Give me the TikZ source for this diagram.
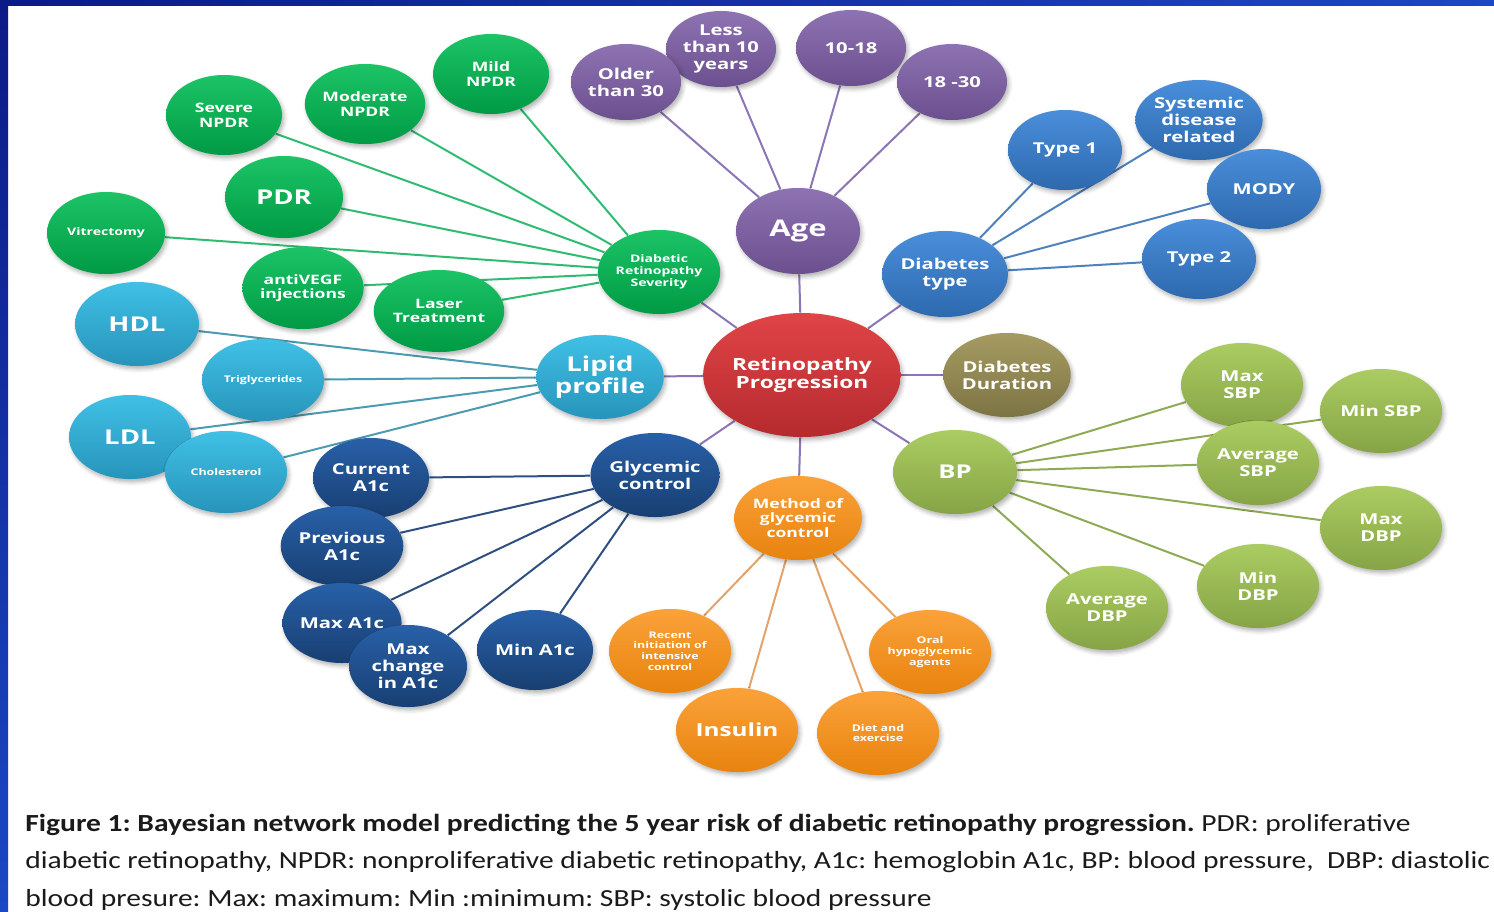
\documentclass[tikz,border=0pt]{standalone}
\usepackage{fontspec}
\usepackage{tikz}
\usetikzlibrary{shapes.geometric}
\usetikzlibrary{backgrounds}
\usetikzlibrary{shadows.blur}
\newfontfamily\nodefont{Open Sans}[FakeStretch=1.35]
\newfontfamily\capfont{Carlito}[FakeStretch=1.2]
\frenchspacing
\definecolor{sevL}{HTML}{1CC466}
\definecolor{sevD}{HTML}{009A44}
\definecolor{sevLine}{HTML}{2FBB72}
\definecolor{ageL}{HTML}{8E73B3}
\definecolor{ageD}{HTML}{6B4F8E}
\definecolor{ageLine}{HTML}{8B74B8}
\definecolor{typeL}{HTML}{4A8EDA}
\definecolor{typeD}{HTML}{2D69AE}
\definecolor{typeLine}{HTML}{4F81BD}
\definecolor{progL}{HTML}{E04446}
\definecolor{progD}{HTML}{B52A2E}
\definecolor{durL}{HTML}{A59B62}
\definecolor{durD}{HTML}{7D7444}
\definecolor{lipL}{HTML}{40C0E6}
\definecolor{lipD}{HTML}{2794BA}
\definecolor{lipLine}{HTML}{4D9BB0}
\definecolor{glyL}{HTML}{2860A8}
\definecolor{glyD}{HTML}{183F72}
\definecolor{glyLine}{HTML}{2F4F80}
\definecolor{metL}{HTML}{FAA23A}
\definecolor{metD}{HTML}{E8830E}
\definecolor{metLine}{HTML}{E3A36A}
\definecolor{bpL}{HTML}{ABCC62}
\definecolor{bpD}{HTML}{86A446}
\definecolor{bpLine}{HTML}{8DAA55}
\definecolor{frameL}{HTML}{0C1A86}
\definecolor{frameR}{HTML}{1B48C4}
\definecolor{capgray}{HTML}{1A1A1A}

\begin{document}
\begin{tikzpicture}
  [
    x=0.5pt,
    y=-0.5pt,
    bnode/.style={
      ellipse,
      inner sep=0pt,
      minimum width=61pt,
      minimum height=42pt,
      text=white,
      align=center,
      blur shadow={shadow xshift=1pt,shadow yshift=-1.5pt,shadow blur radius=2pt,shadow opacity=30}
    },
    sz/.style 2 args={minimum width=#1pt,minimum height=#2pt},
    sev/.style={bnode,top color=sevL,bottom color=sevD},
    age/.style={bnode,top color=ageL,bottom color=ageD},
    dtype/.style={bnode,top color=typeL,bottom color=typeD},
    prog/.style={bnode,top color=progL,bottom color=progD},
    dur/.style={bnode,top color=durL,bottom color=durD},
    lip/.style={bnode,top color=lipL,bottom color=lipD},
    gly/.style={bnode,top color=glyL,bottom color=glyD},
    met/.style={bnode,top color=metL,bottom color=metD},
    bpn/.style={bnode,top color=bpL,bottom color=bpD},
    fxs/.style={font=\nodefont\bfseries\fontsize{4.6}{5.4}\selectfont},
    fs/.style={font=\nodefont\bfseries\fontsize{5.2}{6}\selectfont},
    fm/.style={font=\nodefont\bfseries\fontsize{6.5}{7.3}\selectfont},
    fn/.style={font=\nodefont\bfseries\fontsize{7.5}{8.4}\selectfont},
    fl/.style={font=\nodefont\bfseries\fontsize{8.4}{9.2}\selectfont},
    fxl/.style={font=\nodefont\bfseries\fontsize{10.2}{11}\selectfont},
    link/.style={line width=1pt}
  ]
  \useasboundingbox (0,0) rectangle (1494,911);
  \clip (0,0) rectangle (1494,911);
  % frame
  \shade [left color=frameL,right color=frameR] (0,0) rectangle (1494,5);
  \shade [top color=frameL,bottom color=frameR] (0,0) rectangle (8,911);

  % retinopathy severity
  \node [sev,sz={58}{40},fm] (mild) at (491,74) {Mild\\NPDR};
  \node [sev,sz={58}{40},fm] (moderate) at (365,104) {Moderate\\NPDR};
  \node [sev,sz={58}{40},fm] (severe) at (224,115) {Severe\\NPDR};
  \node [sev,sz={59}{41},fxl] (pdr) at (284,197) {PDR};
  \node [sev,sz={59}{41},fs] (vitrect) at (106,233) {Vitrectomy};
  \node [sev,sz={59}{41},fm] (antivegf) at (303,288) {antiVEGF\\injections};
  \node [sev,sz={59}{41},fm] (laser) at (439,311) {Laser\\Treatment};
  \node [sev,fs] (drs) at (659,272) {Diabetic\\Retinopathy\\Severity};

  % age
  \node [age,sz={55}{38},fn] (less10) at (721,49) {Less\\than 10\\years};
  \node [age,sz={55}{38},fn] (older) at (626,82) {Older\\than 30};
  \node [age,sz={55}{38},fn] (a1018) at (851,48) {10-18};
  \node [age,sz={55}{38},fn] (a1830) at (952,82) {18 -30};
  \node [age,sz={62}{43},font=\nodefont\bfseries\fontsize{11.5}{12}\selectfont] (age) at (798,231) {Age};

  % diabetes type
  \node [dtype,sz={57}{40},fn] (type1) at (1065,150) {Type 1};
  \node [dtype,sz={57}{40},fn] (systemic) at (1199,120) {Systemic\\disease\\related};
  \node [dtype,sz={57}{40},fn] (mody) at (1264,189) {MODY};
  \node [dtype,sz={57}{40},fn] (type2) at (1199,259) {Type 2};
  \node [dtype,sz={62}{43},fn] (diabtype) at (945,274) {Diabetes\\type};

  % centre
  \node [prog,sz={96}{62},fl] (progress) at (802,375) {Retinopathy\\Progression};
  \node [dur,sz={60}{42},fn] (duration) at (1007,375) {Diabetes\\Duration};

  % lipids
  \node [lip,sz={62}{42},fxl] (hdl) at (137,324) {HDL};
  \node [lip,sz={61}{41},fxs] (trig) at (263,380) {Triglycerides};
  \node [lip,sz={61}{42},fxl] (ldl) at (130,437) {LDL};
  \node [lip,sz={61}{41},fxs] (chol) at (226,472) {Cholesterol};
  \node [lip,sz={62}{42},fxl] (lipid) at (600,377) {Lipid\\profile};

  % glycemic control
  \node [gly,sz={58}{40},fn] (curA) at (371,478) {Current\\A1c};
  \node [gly,sz={58}{40},fn] (prevA) at (342,546) {Previous\\A1c};
  \node [gly,sz={58}{40},fn] (maxA) at (342,623) {Max A1c};
  \node [gly,sz={59}{41},fn] (chgA) at (408,666) {Max\\change\\in A1c};
  \node [gly,sz={58}{40},fn] (minA) at (535,650) {Min A1c};
  \node [gly,sz={60}{42},fn] (glyc) at (655,475) {Glycemic\\control};

  % method of control
  \node [met,fm] (method) at (798,518) {Method of\\glycemic\\control};
  \node [met,fxs] (recent) at (670,651) {Recent\\initiation of\\intensive\\control};
  \node [met,font=\nodefont\bfseries\fontsize{9}{10}\selectfont] (insulin) at (737,730) {Insulin};
  \node [met,fxs] (diet) at (878,733) {Diet and\\exercise};
  \node [met,fxs] (oral) at (930,652) {Oral\\hypoglycemic\\agents};

  % blood pressure
  \node [bpn,fn] (maxsbp) at (1242,385) {Max\\SBP};
  \node [bpn,fn] (minsbp) at (1381,411) {Min SBP};
  \node [bpn,fn] (avgsbp) at (1258,463) {Average\\SBP};
  \node [bpn,fn] (maxdbp) at (1381,528) {Max\\DBP};
  \node [bpn,fn] (mindbp) at (1258,586) {Min\\DBP};
  \node [bpn,fn] (avgdbp) at (1107,608) {Average\\DBP};
  \node [bpn,sz={62}{42},font=\nodefont\bfseries\fontsize{9.5}{10}\selectfont] (bp) at (955,472) {BP};

  % links
  \begin{scope}[on background layer]
    \foreach \n in {mild,moderate,severe,pdr,vitrect,antivegf,laser}
      \draw [link,sevLine] (drs) -- (\n);
    \foreach \n in {less10,older,a1018,a1830}
      \draw [link,ageLine] (age) -- (\n);
    \foreach \n in {type1,systemic,mody,type2}
      \draw [link,typeLine] (diabtype) -- (\n);
    \foreach \n in {drs,age,diabtype,duration,bp,method,glyc,lipid}
      \draw [link,ageLine] (progress) -- (\n);
    \foreach \n in {hdl,trig,ldl,chol}
      \draw [link,lipLine] (lipid) -- (\n);
    \foreach \n in {curA,prevA,maxA,chgA,minA}
      \draw [link,glyLine] (glyc) -- (\n);
    \foreach \n in {recent,insulin,diet,oral}
      \draw [link,metLine] (method) -- (\n);
    \foreach \n in {maxsbp,minsbp,avgsbp,maxdbp,mindbp,avgdbp}
      \draw [link,bpLine] (bp) -- (\n);
  \end{scope}

  % caption (base = last line)
  \node [anchor=base west,inner sep=0pt,align=left,text=capgray,font=\capfont\fontsize{12.3}{18.75}\selectfont] (caption) at (25,906)
    {\textbf{Figure 1: Bayesian network model predicting the 5 year risk of diabetic retinopathy progression.} PDR: proliferative\\
     diabetic retinopathy, NPDR: nonproliferative diabetic retinopathy, A1c: hemoglobin A1c, BP: blood pressure,\ \ DBP: diastolic\\
     blood presure: Max: maximum: Min :minimum: SBP: systolic blood pressure};
\end{tikzpicture}
\end{document}
